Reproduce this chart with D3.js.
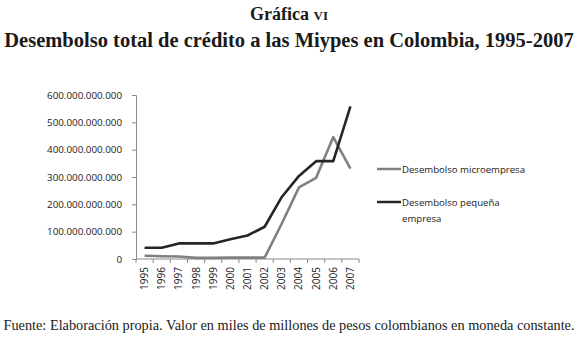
<!DOCTYPE html>
<html>
<head>
<meta charset="utf-8">
<script src="https://cdnjs.cloudflare.com/ajax/libs/d3/7.8.5/d3.min.js"></script>
<style>
  body { margin: 0; background: #fff; }
  svg text { fill: #1a1a1a; }
</style>
</head>
<body>
<div id="chart"></div>
<script>
var years = ["1995","1996","1997","1998","1999","2000","2001","2002","2003","2004","2005","2006","2007"];
// miles de millones de pesos
var micro = [12, 10, 9, 4, 4, 5, 5, 5, 130, 262, 297, 446, 331];
var pequena = [41, 41, 57, 57, 57, 72, 86, 118, 227, 304, 358, 358, 558];
var yTicks = [0, 100, 200, 300, 400, 500, 600];
var seriesNames = ["Desembolso microempresa", "Desembolso pequeña empresa"];
var seriesColors = ["#808080", "#262626"];

var width = 578, height = 337;
var sans = "'Open Sans', 'DejaVu Sans', sans-serif";
var serif = "'Liberation Serif', serif";

var svg = d3.select("#chart").append("svg")
    .attr("width", width)
    .attr("height", height);

// titles
svg.append("text")
    .attr("x", 289).attr("y", 20)
    .attr("text-anchor", "middle")
    .style("font-family", serif)
    .style("font-weight", "bold")
    .style("font-size", "18px")
    .html("Gráfica <tspan style='font-size:13px'>VI</tspan>");

svg.append("text")
    .attr("x", 289).attr("y", 47)
    .attr("text-anchor", "middle")
    .style("font-family", serif)
    .style("font-weight", "bold")
    .style("font-size", "20.5px")
    .text("Desembolso total de crédito a las Miypes en Colombia, 1995-2007");

svg.append("text")
    .attr("x", 289).attr("y", 330)
    .attr("text-anchor", "middle")
    .style("font-family", serif)
    .style("font-size", "14.3px")
    .text("Fuente: Elaboración propia. Valor en miles de millones de pesos colombianos en moneda constante.");

var x = d3.scaleBand().domain(years).range([136, 359]);
var y = d3.scaleLinear().domain([0, 600]).range([259, 95]);

var g = svg.append("g");

// y axis
var yAxis = g.append("g")
    .attr("transform", "translate(136,0)")
    .call(d3.axisLeft(y).tickValues(yTicks).tickSize(4).tickPadding(10)
        .tickFormat(function(d){ return d === 0 ? "0" : d3.format(",")(d * 1e9).replace(/,/g, "."); }));
yAxis.select(".domain").attr("stroke", "#8a8a8a");
yAxis.selectAll(".tick line").attr("stroke", "#8a8a8a");
yAxis.selectAll("text")
    .style("font-family", sans)
    .style("font-size", "9.8px")
    .style("fill", "#1a1a1a");

// x axis, ticks on the band edges
var xAxis = g.append("g").attr("transform", "translate(0,259)");
xAxis.append("line")
    .attr("x1", x.range()[0]).attr("x2", x.range()[1])
    .attr("stroke", "#8a8a8a");
xAxis.selectAll(".xt")
    .data(years.concat(["end"]))
    .enter().append("line")
    .attr("x1", function(d, i){ return x.range()[0] + i * x.step(); })
    .attr("x2", function(d, i){ return x.range()[0] + i * x.step(); })
    .attr("y1", 0).attr("y2", 4)
    .attr("stroke", "#8a8a8a");
xAxis.selectAll(".xl")
    .data(years)
    .enter().append("text")
    .attr("transform", function(d){ return "translate(" + (x(d) + x.bandwidth()/2 + 3.5) + ",8) rotate(-90)"; })
    .attr("text-anchor", "end")
    .style("font-family", sans)
    .style("font-size", "10px")
    .text(function(d){ return d; });

// lines
var line = d3.line()
    .x(function(d, i){ return x(years[i]) + x.bandwidth()/2; })
    .y(function(d){ return y(d); });

[micro, pequena].forEach(function(s, k){
    g.append("path")
        .datum(s)
        .attr("fill", "none")
        .attr("stroke", seriesColors[k])
        .attr("stroke-width", 2.6)
        .attr("stroke-linejoin", "round")
        .attr("d", line);
});

// legend
var legend = svg.append("g");
var legendY = [169, 202];
seriesNames.forEach(function(name, k){
    legend.append("line")
        .attr("x1", 377).attr("x2", 401)
        .attr("y1", legendY[k]).attr("y2", legendY[k])
        .attr("stroke", seriesColors[k])
        .attr("stroke-width", 2.5);
});
legend.append("text")
    .attr("x", 402).attr("y", legendY[0] + 3.5)
    .style("font-family", sans)
    .style("font-size", "9.6px")
    .text(seriesNames[0]);
legend.append("text")
    .attr("x", 402).attr("y", legendY[1] + 3.5)
    .style("font-family", sans)
    .style("font-size", "9.6px")
    .text("Desembolso pequeña");
legend.append("text")
    .attr("x", 402).attr("y", legendY[1] + 20)
    .style("font-family", sans)
    .style("font-size", "9.6px")
    .text("empresa");
</script>
</body>
</html>
